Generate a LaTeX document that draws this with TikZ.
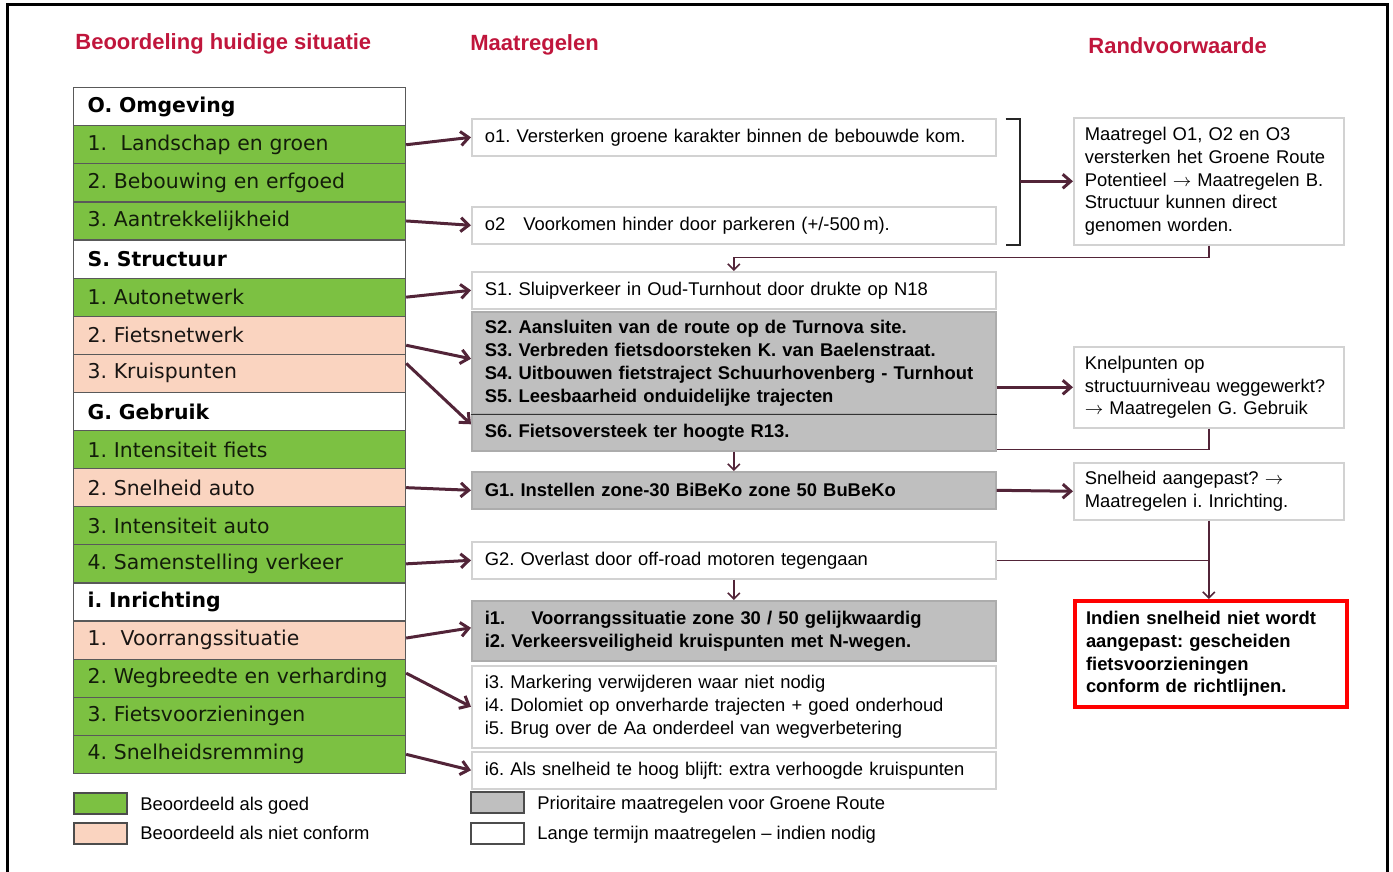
\documentclass[tikz,border=0pt]{standalone}
\usepackage{fontspec}
\setmainfont{Liberation Sans}
\newfontfamily\verdana{DejaVu Sans}
\usetikzlibrary{arrows.meta,positioning}
\frenchspacing
\hyphenpenalty=10000
\exhyphenpenalty=10000
\definecolor{kop}{RGB}{192,22,60}
\definecolor{goed}{RGB}{124,193,66}
\definecolor{nietconform}{RGB}{250,212,192}
\definecolor{prio}{RGB}{191,191,191}
\definecolor{pijl}{RGB}{82,36,56}
\newcommand{\pl}{$\rightarrow$}
\tikzset{
  cel/.style={draw=black!65, line width=0.6pt, anchor=north west, minimum width=166pt,
    minimum height=19.05pt, text width=152pt, inner xsep=7pt, inner ysep=0pt, align=left,
    font=\verdana\fontsize{10.2}{12}\selectfont},
  kopcel/.style={cel, fill=white, font=\verdana\bfseries\fontsize{10.2}{12}\selectfont},
  goedcel/.style={cel, fill=goed, text=goed!15!black},
  nietcel/.style={cel, fill=nietconform, text=nietconform!10!black},
  mbox/.style={draw=gray!35, line width=0.8pt, fill=white, anchor=north west, minimum width=262pt,
    text width=249pt, inner xsep=6.5pt, inner ysep=0pt, align=left,
    font=\fontsize{9.2}{11.5}\selectfont},
  pbox/.style={mbox, fill=prio, draw=prio!90!black, font=\bfseries\fontsize{9.2}{11.5}\selectfont},
  rbox/.style={draw=gray!35, line width=0.8pt, fill=white, anchor=north west, minimum width=135pt,
    text width=124pt, inner xsep=5.5pt, inner ysep=0pt, align=left,
    font=\fontsize{9.2}{11.35}\selectfont},
  kopje/.style={anchor=base west, text=kop, inner sep=0pt, font=\bfseries\fontsize{11}{13}\selectfont},
  pijl/.style={draw=pijl, line width=1.5pt, -{Straight Barb[length=4pt,width=7pt]}},
  dun/.style={draw=pijl, line width=0.8pt},
  dunpijl/.style={dun, -{Straight Barb[length=3pt,width=6pt]}},
  leg/.style={draw=black!70, line width=0.8pt, minimum width=26.5pt, minimum height=10.5pt,
    anchor=north west, inner sep=0pt},
  legtekst/.style={anchor=base west, inner sep=0pt, font=\fontsize{9.2}{11}\selectfont}
}
\begin{document}
\begin{tikzpicture}[x=0.5pt,y=-0.5pt]
\useasboundingbox (0,0) rectangle (1393,872);
%frame
\draw[line width=1.5pt] (7,880) -- (7,5) -- (1387,5) -- (1387,880);
%headers
\node[kopje] (kop1) at (75,50) {Beoordeling huidige situatie};
\node[kopje] (kop2) at (470,51) {Maatregelen};
\node[kopje] (kop3) at (1088,54) {Randvoorwaarde};
%beoordeling
\foreach \i/\st/\tekst in {1/kopcel/O. Omgeving, 2/goedcel/{1.\ \ Landschap en groen},
    3/goedcel/2. Bebouwing en erfgoed, 4/goedcel/3. Aantrekkelijkheid,
    5/kopcel/S. Structuur, 6/goedcel/1. Autonetwerk, 7/nietcel/2. Fietsnetwerk,
    8/nietcel/3. Kruispunten, 9/kopcel/G. Gebruik, 10/goedcel/1. Intensiteit fiets,
    11/nietcel/2. Snelheid auto, 12/goedcel/3. Intensiteit auto,
    13/goedcel/4. Samenstelling verkeer, 14/kopcel/i. Inrichting,
    15/nietcel/{1.\ \ Voorrangssituatie}, 16/goedcel/2. Wegbreedte en verharding,
    17/goedcel/3. Fietsvoorzieningen, 18/goedcel/4. Snelheidsremming}
  \node[\st] (cel\i) at (73,{87+(\i-1)*38.1}) {\tekst};
%maatregelen
\node[mbox, minimum height=18.5pt] (o1) at (471,118) {o1. Versterken groene karakter binnen de bebouwde kom.};
\node[mbox, minimum height=18.5pt] (o2) at (471,206) {o2\hspace{9pt}Voorkomen hinder door parkeren (+/-500\,m).};
\node[mbox, minimum height=18.5pt] (s1) at (471,271) {S1. Sluipverkeer in Oud-Turnhout door drukte op N18};
\node[pbox, minimum height=51pt] (s25) at (471,311) {S2. Aansluiten van de route op de Turnova site.\\
  S3. Verbreden fietsdoorsteken K. van Baelenstraat.\\
  S4. Uitbouwen fietstraject Schuurhovenberg - Turnhout\\
  S5. Leesbaarheid onduidelijke trajecten};
\node[pbox, minimum height=18.5pt] (s6) at (471,413) {S6. Fietsoversteek ter hoogte R13.};
\draw[gray!40!black, line width=0.8pt] (s25.south west) -- (s25.south east);
\node[pbox, minimum height=18.5pt] (g1) at (471,471) {G1. Instellen zone-30 BiBeKo zone 50 BuBeKo};
\node[mbox, minimum height=18.5pt] (g2) at (471,541) {G2. Overlast door off-road motoren tegengaan};
\node[pbox, minimum height=30pt] (i12) at (471,600) {i1.\hspace{13pt}Voorrangssituatie zone 30 / 50 gelijkwaardig\\
  i2. Verkeersveiligheid kruispunten met N-wegen.};
\node[mbox, minimum height=41pt] (i35) at (471,665) {i3. Markering verwijderen waar niet nodig\\
  i4. Dolomiet op onverharde trajecten + goed onderhoud\\
  i5. Brug over de Aa onderdeel van wegverbetering};
\node[mbox, minimum height=18.5pt] (i6) at (471,751) {i6. Als snelheid te hoog blijft: extra verhoogde kruispunten};
%randvoorwaarden
\node[rbox, minimum height=63.5pt] (rv1) at (1073,117) {Maatregel O1, O2 en O3\\
  versterken het Groene Route\\ Potentieel \pl\ Maatregelen B.\\ Structuur kunnen direct\\ genomen worden.};
\node[rbox, minimum height=40.5pt] (rv2) at (1073,346) {Knelpunten op\\ structuurniveau weggewerkt?\\ \pl\ Maatregelen G. Gebruik};
\node[rbox, minimum height=28.5pt] (rv3) at (1073,462) {Snelheid aangepast? \pl\\ Maatregelen i. Inrichting.};
\node[rbox, draw=red, line width=2pt, minimum width=136pt, text width=125pt, minimum height=53pt,
  font=\bfseries\fontsize{9.2}{11.3}\selectfont] (rv4) at (1073,599) {Indien snelheid niet wordt\\
  aangepast: gescheiden\\ fietsvoorzieningen\\ conform de richtlijnen.};
%pijlen beoordeling -> maatregelen
\draw[pijl] (cel2.east) -- (o1.west);
\draw[pijl] (cel4.east) -- (o2.west);
\draw[pijl] (cel6.east) -- (s1.west);
\draw[pijl] ([yshift=-5pt]cel7.east) -- ([yshift=2pt]s25.west);
\draw[pijl] ([yshift=5pt]cel8.east) -- ([yshift=4pt]s6.west);
\draw[pijl] (cel11.east) -- (g1.west);
\draw[pijl] (cel13.east) -- (g2.west);
\draw[pijl] ([yshift=1pt]cel15.east) -- ([yshift=1.5pt]i12.west);
\draw[pijl] ([yshift=2.5pt]cel16.east) -- (i35.west);
\draw[pijl] (cel18.east) -- (i6.west);
%haak o1-o2
\coordinate (hb) at ([xshift=4.5pt,yshift=-0.5pt]o1.north east);
\coordinate (ho) at ([xshift=4.5pt]o2.south east);
\coordinate (hr) at ([xshift=7pt]hb);
\draw[black!85, line width=1pt] (hb) -- (hr) |- (ho);
\draw[pijl] (hr |- rv1.west) -- (rv1.west);
%pijlen maatregelen -> randvoorwaarden
\draw[pijl] (s25.east |- rv2.west) -- (rv2.west);
\draw[pijl] (g1.east) -- (rv3.west);
%terugkoppeling
\draw[dunpijl] (rv1.south) -- ++(0,-6pt) -| (s1.north);
\draw[dun] (rv2.south) |- ([yshift=1pt]s6.south east);
\draw[dunpijl] (s6.south) -- (g1.north);
\draw[dunpijl] (g2.south) -- (i12.north);
\draw[dunpijl] (rv3.south) -- (rv3.south |- rv4.north);
\draw[dun] (g2.east) -- (g2.east -| rv3.south);
%legenda
\node[leg, fill=goed] (leggoed) at (73,792) {};
\node[leg, fill=nietconform] (legniet) at (73,822) {};
\node[legtekst] (ltgoed) at (140,810) {Beoordeeld als goed};
\node[legtekst] (ltniet) at (140,839) {Beoordeeld als niet conform};
\node[leg, fill=prio] (legprio) at (470,791) {};
\node[leg, fill=white] (legtermijn) at (470,822) {};
\node[legtekst] (ltprio) at (537,809) {Prioritaire maatregelen voor Groene Route};
\node[legtekst] (lttermijn) at (537,839) {Lange termijn maatregelen – indien nodig};
\end{tikzpicture}
\end{document}
